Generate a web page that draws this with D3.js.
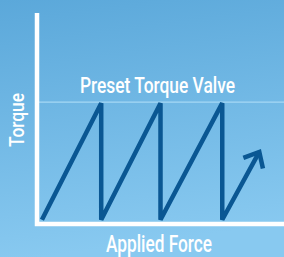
<!DOCTYPE html>
<html><head><meta charset="utf-8">
<script src="https://cdn.jsdelivr.net/npm/d3@7"></script>
<style>html,body{margin:0;padding:0;overflow:hidden;background:#6fb8e5}</style>
</head><body>
<svg id="chart" width="284" height="257"></svg>
<script>
// Data (applied force vs torque, arbitrary units 0-10)
const forceValues  = [0.2, 2.6, 2.6, 5.0, 5.0, 7.5, 7.5, 9.0];
const torqueValues = [0.2, 5.7, 0.2, 5.7, 0.2, 5.7, 0.2, 3.4];
const presetTorque = 5.75;
const presetLabel = "Preset Torque Valve";
const xAxisLabel = "Applied Force";
const yAxisLabel = "Torque";

const W = 284, H = 257;
const svg = d3.select("#chart");
const defs = svg.append("defs");
const grad = defs.append("linearGradient").attr("id","bg")
  .attr("x1","0").attr("y1","0").attr("x2","0.15").attr("y2","1");
grad.append("stop").attr("offset","0").attr("stop-color","#5ba8da");
grad.append("stop").attr("offset","1").attr("stop-color","#88c9f0");
svg.append("rect").attr("width",W).attr("height",H).attr("fill","url(#bg)");

const x = d3.scaleLinear().domain([0,10]).range([37,284]);
const y = d3.scaleLinear().domain([0,10]).range([224,12]);

// preset line
svg.append("line")
  .attr("x1", x(0)+2).attr("x2", x(10))
  .attr("y1", y(presetTorque)).attr("y2", y(presetTorque))
  .attr("stroke","#a6d8f5").attr("stroke-width",1.2);

svg.append("text")
  .attr("x", 80).attr("y", 92.5)
  .attr("font-family","Roboto, 'Noto Sans', sans-serif")
  .attr("font-size",21.5).attr("font-weight",500).attr("fill","#ffffff")
  .attr("textLength",155).attr("lengthAdjust","spacingAndGlyphs")
  .text(presetLabel);

// sawtooth
const pts = forceValues.map((f,i)=>[x(f), y(torqueValues[i])]);
svg.append("path")
  .attr("d", d3.line()(pts))
  .attr("fill","none").attr("stroke","#0a5793")
  .attr("stroke-width",4.5).attr("stroke-linejoin","miter");

// arrowhead on last segment
const [p0,p1] = pts.slice(-2);
const ang = Math.atan2(p0[1]-p1[1], p0[0]-p1[0]);
const L = 17, a = 41*Math.PI/180;
const b1 = [p1[0]+L*Math.cos(ang+a), p1[1]+L*Math.sin(ang+a)];
const b2 = [p1[0]+L*Math.cos(ang-a), p1[1]+L*Math.sin(ang-a)];
svg.append("path")
  .attr("d", d3.line()([b1,p1,b2]))
  .attr("fill","none").attr("stroke","#0a5793")
  .attr("stroke-width",4.5).attr("stroke-linejoin","miter").attr("stroke-miterlimit",10);

// axes
svg.append("path")
  .attr("d", d3.line()([[x(0),13],[x(0),y(0)],[x(10),y(0)]]))
  .attr("fill","none").attr("stroke","#ffffff").attr("stroke-width",4.5)
  .attr("stroke-linejoin","miter");

svg.append("text")
  .attr("x", 106).attr("y", 252)
  .attr("font-family","Roboto, 'Noto Sans', sans-serif")
  .attr("font-size",23).attr("font-weight",500).attr("fill","#ffffff")
  .attr("textLength",106).attr("lengthAdjust","spacingAndGlyphs")
  .text(xAxisLabel);

svg.append("text")
  .attr("transform","translate(23.5,147) rotate(-90)")
  .attr("font-family","Roboto, 'Noto Sans', sans-serif")
  .attr("font-size",20).attr("font-weight",500).attr("fill","#ffffff")
  .attr("textLength",54).attr("lengthAdjust","spacingAndGlyphs")
  .text(yAxisLabel);
</script>
</body></html>
